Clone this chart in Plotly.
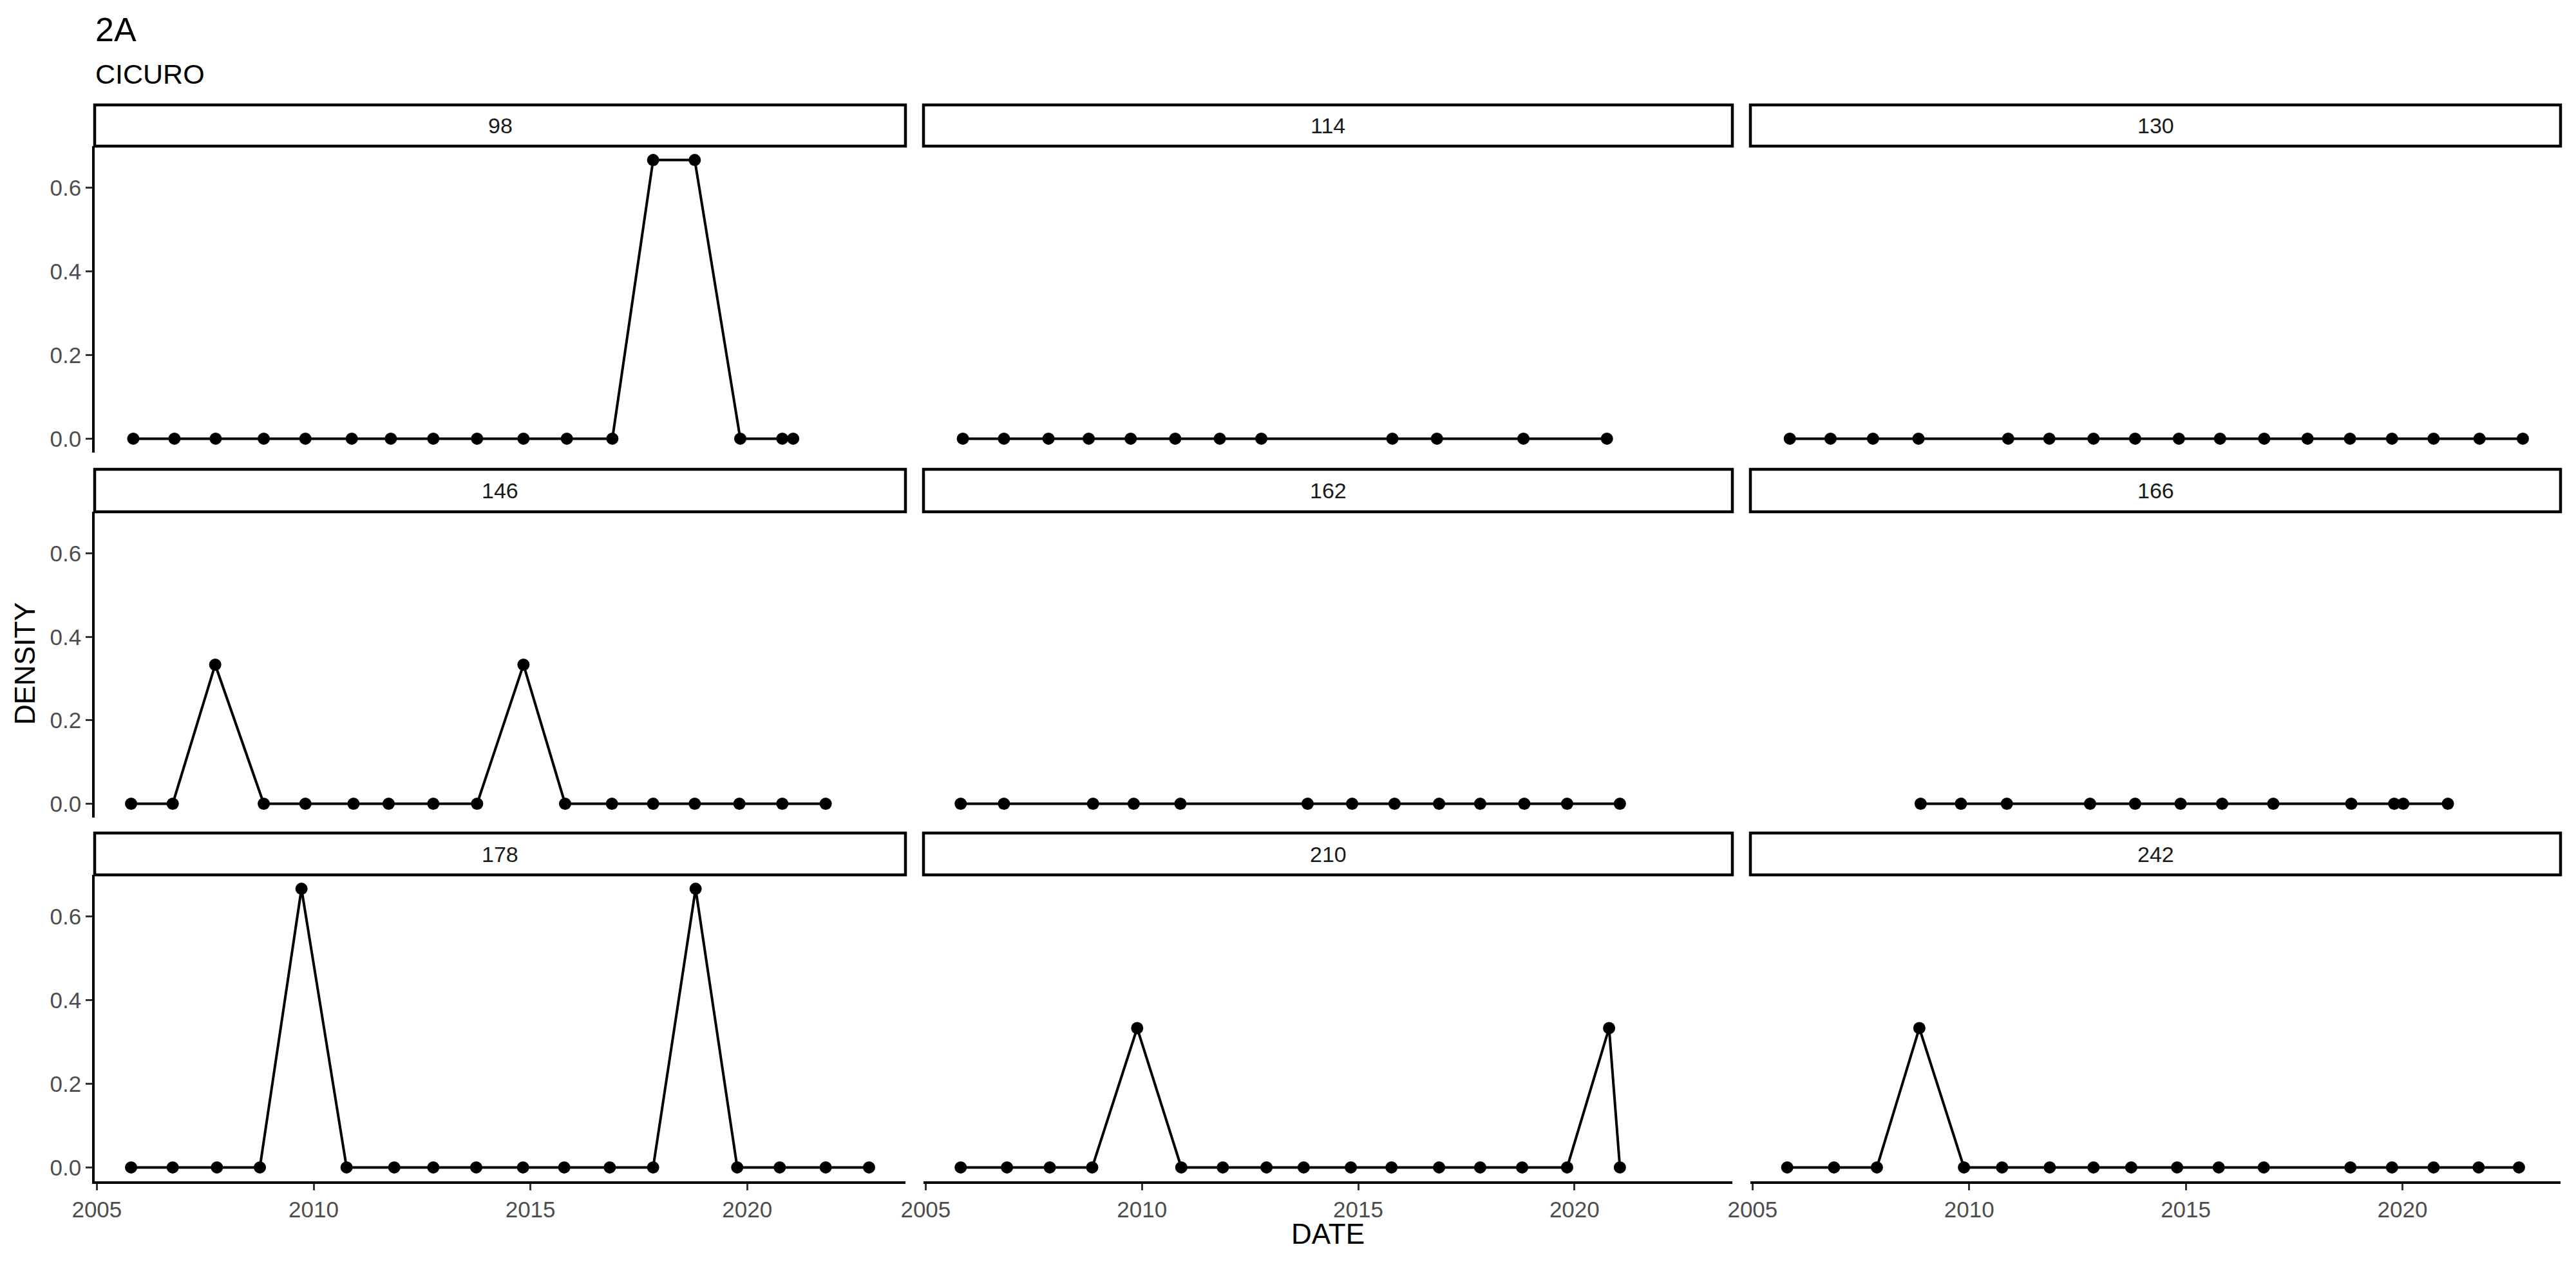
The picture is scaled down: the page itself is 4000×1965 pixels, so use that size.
import plotly.graph_objects as go

# ---------------- data ----------------
panel_labels = ["98", "114", "130", "146", "162", "166", "178", "210", "242"]

x98 = [2005.84, 2006.79, 2007.74, 2008.85, 2009.81, 2010.88, 2011.78, 2012.76, 2013.77,
       2014.84, 2015.84, 2016.89, 2017.83, 2018.79, 2019.84, 2020.81, 2021.06]
y98 = [0, 0, 0, 0, 0, 0, 0, 0, 0, 0, 0, 0, 0.6667, 0.6667, 0, 0, 0]

x114 = [2005.86, 2006.81, 2007.84, 2008.77, 2009.74, 2010.77, 2011.80, 2012.76,
        2015.79, 2016.82, 2018.82, 2020.75]
y114 = [0, 0, 0, 0, 0, 0, 0, 0, 0, 0, 0, 0]

x130 = [2005.86, 2006.80, 2007.78, 2008.83, 2010.90, 2011.85, 2012.87, 2013.83, 2014.84,
        2015.79, 2016.81, 2017.81, 2018.79, 2019.76, 2020.72, 2021.78, 2022.78]
y130 = [0, 0, 0, 0, 0, 0, 0, 0, 0, 0, 0, 0, 0, 0, 0, 0, 0]

x146 = [2005.79, 2006.75, 2007.73, 2008.85, 2009.81, 2010.92, 2011.73, 2012.76, 2013.77,
        2014.84, 2015.80, 2016.88, 2017.83, 2018.79, 2019.82, 2020.81, 2021.81]
y146 = [0, 0, 0.3333, 0, 0, 0, 0, 0, 0, 0.3333, 0, 0, 0, 0, 0, 0, 0]

x162 = [2005.81, 2006.81, 2008.87, 2009.81, 2010.89, 2013.83, 2014.86, 2015.84, 2016.87,
        2017.82, 2018.84, 2019.83, 2021.05]
y162 = [0, 0, 0, 0, 0, 0, 0, 0, 0, 0, 0, 0, 0]

x166 = [2008.88, 2009.81, 2010.87, 2012.79, 2013.83, 2014.88, 2015.84, 2017.02, 2018.82,
        2019.81, 2020.02, 2021.05]
y166 = [0, 0, 0, 0, 0, 0, 0, 0, 0, 0, 0, 0]

x178 = [2005.79, 2006.75, 2007.77, 2008.76, 2009.72, 2010.76, 2011.86, 2012.76, 2013.75,
        2014.83, 2015.78, 2016.83, 2017.83, 2018.81, 2019.77, 2020.75, 2021.81, 2022.81]
y178 = [0, 0, 0, 0, 0.6667, 0, 0, 0, 0, 0, 0, 0, 0, 0.6667, 0, 0, 0, 0]

x210 = [2005.81, 2006.88, 2007.87, 2008.85, 2009.89, 2010.91, 2011.87, 2012.88, 2013.74,
        2014.83, 2015.77, 2016.87, 2017.82, 2018.79, 2019.83, 2020.80, 2021.05]
y210 = [0, 0, 0, 0, 0.3333, 0, 0, 0, 0, 0, 0, 0, 0, 0, 0, 0.3333, 0]

x242 = [2005.80, 2006.88, 2007.87, 2008.85, 2009.88, 2010.76, 2011.86, 2012.87, 2013.74,
        2014.80, 2015.76, 2016.80, 2018.80, 2019.76, 2020.72, 2021.76, 2022.69]
y242 = [0, 0, 0, 0.3333, 0, 0, 0, 0, 0, 0, 0, 0, 0, 0, 0, 0, 0]

x_ticks = [2005, 2010, 2015, 2020]
x_tick_labels = ["2005", "2010", "2015", "2020"]
y_ticks = [0.0, 0.2, 0.4, 0.6]
y_tick_labels = ["0.0", "0.2", "0.4", "0.6"]

title_text = "2A"
subtitle_text = "CICURO"
x_title = "DATE"
y_title = "DENSITY"

series_x = [x98, x114, x130, x146, x162, x166, x178, x210, x242]
series_y = [y98, y114, y130, y146, y162, y166, y178, y210, y242]

# ---------------- layout geometry ----------------
W, H = 4000, 1965
FONT = "Liberation Sans, Arial, Helvetica, sans-serif"

col_px = [(147, 1406), (1434, 2690), (2718, 3976)]
# (strip_top, panel_top, panel_bottom) in pixels from top
row_px = [(163, 227, 703), (729, 795, 1270), (1294, 1359, 1835)]

def px_x(p):
    return p / W

def px_y(p):
    return 1 - p / H

fig = go.Figure()
layout = dict(
    template="none",
    width=W, height=H,
    margin=dict(l=0, r=0, t=0, b=0, pad=0),
    paper_bgcolor="white", plot_bgcolor="white",
    showlegend=False,
    font=dict(family=FONT, color="black"),
)
annotations = []
shapes = []

for i in range(9):
    r, c = divmod(i, 3)
    n = i + 1
    xs = "" if n == 1 else str(n)
    x0, x1 = col_px[c]
    st, pt, pb = row_px[r]
    bottom_row = (r == 2)
    left_col = (c == 0)

    layout["xaxis" + xs] = dict(
        domain=[px_x(x0), px_x(x1)],
        anchor="y" + xs,
        automargin=False,
        range=[2004.95, 2023.65],
        showgrid=False, zeroline=False,
        showline=bottom_row, linecolor="black", linewidth=3.5,
        ticks="outside" if bottom_row else "",
        ticklen=10, tickwidth=3, tickcolor="#333333",
        tickvals=x_ticks, ticktext=x_tick_labels,
        showticklabels=bottom_row,
        tickfont=dict(family=FONT, size=35, color="#4D4D4D"),
        fixedrange=True,
    )
    layout["yaxis" + xs] = dict(
        domain=[px_y(pb), px_y(pt)],
        anchor="x" + xs,
        automargin=False,
        range=[-0.0333, 0.7],
        showgrid=False, zeroline=False,
        showline=left_col, linecolor="black", linewidth=3.5,
        ticks="outside" if left_col else "",
        ticklen=10, tickwidth=3, tickcolor="#333333",
        tickvals=y_ticks, ticktext=y_tick_labels,
        showticklabels=left_col,
        tickfont=dict(family=FONT, size=35, color="#4D4D4D"),
        fixedrange=True,
    )

    fig.add_trace(go.Scatter(
        x=series_x[i], y=series_y[i],
        mode="lines+markers",
        line=dict(color="black", width=4),
        marker=dict(color="black", size=19, line=dict(width=0)),
        xaxis="x" + xs, yaxis="y" + xs,
        hoverinfo="x+y",
    ))

    # facet strip
    shapes.append(dict(
        type="rect", xref="paper", yref="paper",
        x0=px_x(x0), x1=px_x(x1), y0=px_y(pt), y1=px_y(st),
        line=dict(color="black", width=4.5), fillcolor="white", layer="above",
    ))
    annotations.append(dict(
        text=panel_labels[i], xref="paper", yref="paper",
        x=px_x((x0 + x1) / 2), y=px_y((st + pt) / 2),
        xanchor="center", yanchor="middle", showarrow=False,
        font=dict(family=FONT, size=34, color="#1A1A1A"),
    ))

# titles
annotations.append(dict(
    text=title_text, xref="paper", yref="paper", x=px_x(146), y=px_y(46),
    xanchor="left", yanchor="middle", showarrow=False,
    font=dict(family=FONT, size=52, color="black"),
))
annotations.append(dict(
    text=subtitle_text, xref="paper", yref="paper", x=px_x(146), y=px_y(115),
    xanchor="left", yanchor="middle", showarrow=False,
    font=dict(family=FONT, size=43, color="black"),
))
annotations.append(dict(
    text=x_title, xref="paper", yref="paper", x=px_x(2062), y=px_y(1916),
    xanchor="center", yanchor="middle", showarrow=False,
    font=dict(family=FONT, size=44, color="black"),
))
annotations.append(dict(
    text=y_title, xref="paper", yref="paper", x=px_x(38), y=px_y(1031),
    xanchor="center", yanchor="middle", showarrow=False, textangle=-90,
    font=dict(family=FONT, size=44, color="black"),
))

layout["annotations"] = annotations
layout["shapes"] = shapes
fig.update_layout(**layout)

fig.write_html("out.html")
